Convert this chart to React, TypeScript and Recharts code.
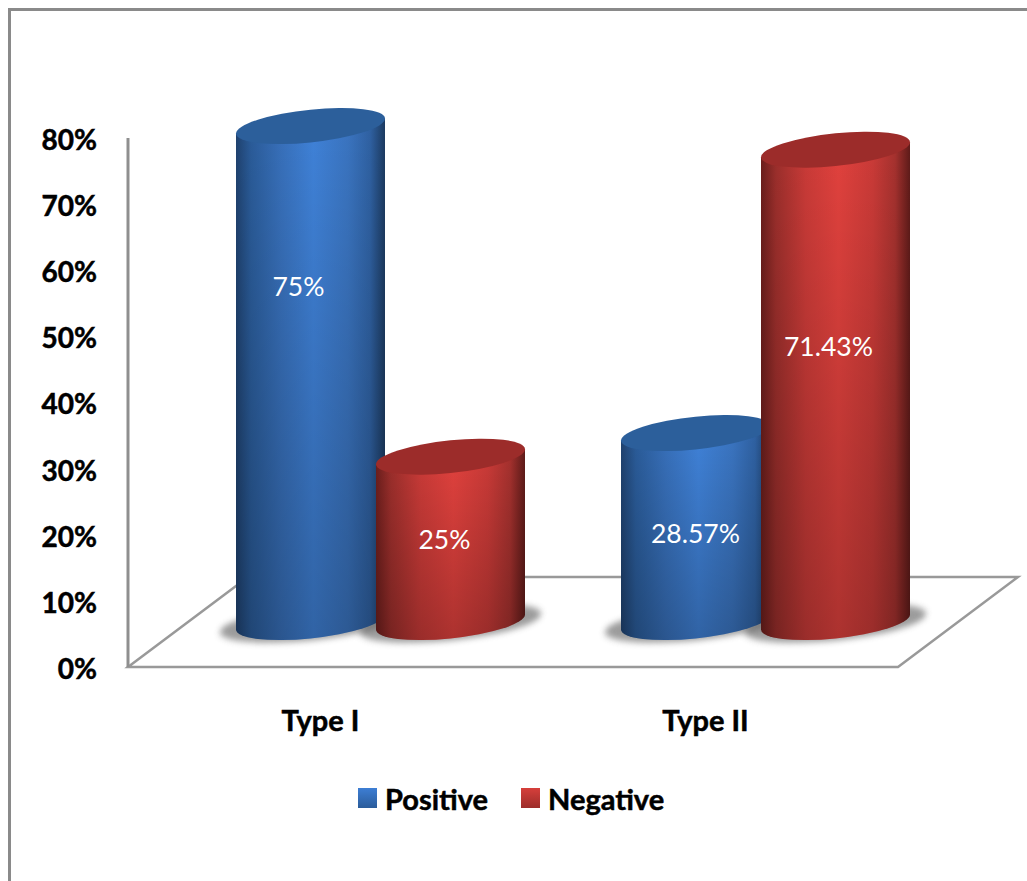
import { Bar, BarChart, LabelList, Legend, XAxis, YAxis } from "recharts";

const categories = ["Type I", "Type II"];
const positiveValues = [75, 28.57];
const negativeValues = [25, 71.43];
const yTicks = [0, 10, 20, 30, 40, 50, 60, 70, 80];

const data = categories.map((type, i) => ({
  type,
  positive: positiveValues[i],
  negative: negativeValues[i],
}));

const WIDTH = 1027;
const HEIGHT = 881;
const PLOT_LEFT = 128;
const PLOT_RIGHT = 898;
const PLOT_TOP = 138;
const PLOT_BOTTOM = 667;

// fake 3D: bars sit on a floor pushed back and to the right of the axes
const DEPTH_X = 60;
const DEPTH_Y = 45;
const CAP_RY = 16.4;
const SKEW = -5.75;

const FONT = "Lato, sans-serif";
const AXIS_GRAY = "#8f8f8f";

// where each value label sits: sideways shift, and how far down the cylinder
const positiveLabelPlace = [
  { dx: -12, down: 0.323 },
  { dx: 0, down: 0.53 },
];
const negativeLabelPlace = [
  { dx: -6, down: 0.5 },
  { dx: -7, down: 0.415 },
];

const Cylinder = (props) => {
  const { x, y, width, height, side, cap } = props;
  const cx = x + width / 2 + DEPTH_X;
  const a = width / 2;
  const top = y - DEPTH_Y;
  const base = y + height - DEPTH_Y;
  const body = `M${-a} ${top}V${base}A${a} ${CAP_RY} 0 0 0 ${a} ${base}V${top}Z`;
  return (
    <g transform={`translate(${cx} 0) skewY(${SKEW})`}>
      <path d={body} fill={`url(#${side})`} />
      <path d={body} fill="url(#fade)" />
      <ellipse cx={0} cy={top} rx={a} ry={CAP_RY} fill={cap} />
    </g>
  );
};

const FloorShadow = (props) => {
  const { x, y, width, height } = props;
  const cx = x + width / 2 + DEPTH_X;
  const base = y + height - DEPTH_Y;
  return (
    <g transform={`translate(${cx} 0) skewY(${SKEW})`}>
      <ellipse
        cx={0}
        cy={base + 1}
        rx={width / 2 + 16}
        ry={CAP_RY + 1}
        fill="#5a5a5a"
        opacity={0.6}
        filter="url(#soft)"
      />
    </g>
  );
};

const valueLabel = (places) => (props) => {
  const { x, y, width, height, value, index } = props;
  const place = places[index];
  const top = y - DEPTH_Y;
  return (
    <text
      x={x + width / 2 + DEPTH_X + place.dx}
      y={top + height * place.down}
      fill="#fff"
      fontFamily={FONT}
      fontSize={26.5}
      textAnchor="middle"
      dominantBaseline="central"
    >
      {value}%
    </text>
  );
};

const Floor = () => (
  <polygon
    points={`${PLOT_LEFT},${PLOT_BOTTOM} ${PLOT_RIGHT},${PLOT_BOTTOM} ${
      PLOT_RIGHT + 2 * DEPTH_X
    },${PLOT_BOTTOM - 2 * DEPTH_Y} ${PLOT_LEFT + 2 * DEPTH_X},${
      PLOT_BOTTOM - 2 * DEPTH_Y
    }`}
    fill="#fff"
    stroke="#999"
    strokeWidth={2.5}
    strokeLinejoin="miter"
  />
);

const swatches = {
  Positive: "linear-gradient(#3d7ed4, #2b5c9a)",
  Negative: "linear-gradient(#d63f3b, #9c2d2a)",
};

const LegendRow = ({ payload }) => (
  <div style={{ position: "relative", height: 40, fontFamily: FONT }}>
    {payload
      .filter((entry) => swatches[entry.value])
      .map((entry) => (
        <div
          key={entry.value}
          style={{
            position: "absolute",
            left: entry.value === "Positive" ? 358 : 521,
            top: 0,
            display: "flex",
            alignItems: "center",
            height: 40,
            gap: 8,
            fontSize: 29,
            fontWeight: 700,
            color: "#000",
            WebkitTextStroke: "0.5px #000",
          }}
        >
          <span
            style={{
              display: "block",
              width: 19,
              height: 20,
              background: swatches[entry.value],
            }}
          />
          {entry.value}
        </div>
      ))}
  </div>
);

const App = () => (
  <div
    style={{
      position: "absolute",
      left: 0,
      top: 0,
      width: WIDTH,
      height: HEIGHT,
      overflow: "hidden",
    }}
  >
    <div
      style={{
        position: "absolute",
        left: 8,
        top: 8,
        right: 0,
        bottom: 0,
        borderLeft: "3px solid #8a8a8a",
        borderTop: "3px solid #8a8a8a",
      }}
    />
    <BarChart
      width={WIDTH}
      height={HEIGHT}
      data={data}
      margin={{
        top: PLOT_TOP,
        right: WIDTH - PLOT_RIGHT,
        bottom: HEIGHT - PLOT_BOTTOM - 60,
        left: 0,
      }}
      barSize={149}
      barGap={-9}
    >
      <defs>
        <linearGradient id="blueSide" x1="0" x2="1" y1="0" y2="0">
          <stop offset="0" stopColor="#1f416e" />
          <stop offset="0.1" stopColor="#2a5b98" />
          <stop offset="0.3" stopColor="#376fb9" />
          <stop offset="0.52" stopColor="#3f81d7" />
          <stop offset="0.75" stopColor="#3a74c0" />
          <stop offset="0.9" stopColor="#2f61a2" />
          <stop offset="1" stopColor="#1c3a60" />
        </linearGradient>
        <linearGradient id="redSide" x1="0" x2="1" y1="0" y2="0">
          <stop offset="0" stopColor="#6a1e1c" />
          <stop offset="0.1" stopColor="#9a2e2b" />
          <stop offset="0.3" stopColor="#c83a37" />
          <stop offset="0.52" stopColor="#e0413d" />
          <stop offset="0.75" stopColor="#c93a37" />
          <stop offset="0.9" stopColor="#a5312e" />
          <stop offset="1" stopColor="#5e1b19" />
        </linearGradient>
        <linearGradient id="fade" x1="0" x2="0" y1="0" y2="1">
          <stop offset="0" stopColor="#000" stopOpacity={0} />
          <stop offset="1" stopColor="#000" stopOpacity={0.23} />
        </linearGradient>
        <filter id="soft" x="-20%" y="-50%" width="140%" height="200%">
          <feGaussianBlur stdDeviation={3} />
        </filter>
      </defs>
      <Floor />
      <XAxis
        dataKey="type"
        height={60}
        axisLine={false}
        tickLine={false}
        tickSize={0}
        tickMargin={43}
        tick={{
          fill: "#000",
          stroke: "#000",
          strokeWidth: 0.5,
          fontFamily: FONT,
          fontSize: 29,
          fontWeight: 700,
        }}
      />
      <YAxis
        domain={[0, 80]}
        ticks={yTicks}
        width={PLOT_LEFT}
        tickFormatter={(v) => `${v}%`}
        tickLine={false}
        tickSize={0}
        tickMargin={31}
        axisLine={{ stroke: AXIS_GRAY, strokeWidth: 3 }}
        tick={{
          fill: "#000",
          stroke: "#000",
          strokeWidth: 0.5,
          fontFamily: FONT,
          fontSize: 28,
          fontWeight: 700,
          dy: 2,
        }}
      />
      {/* second hidden axis pair, so the shadows are laid down before any cylinder */}
      <XAxis xAxisId="shadow" dataKey="type" hide />
      <YAxis yAxisId="shadow" domain={[0, 80]} hide />
      <Bar
        xAxisId="shadow"
        yAxisId="shadow"
        dataKey="positive"
        legendType="none"
        shape={<FloorShadow />}
        isAnimationActive={false}
      />
      <Bar
        xAxisId="shadow"
        yAxisId="shadow"
        dataKey="negative"
        legendType="none"
        shape={<FloorShadow />}
        isAnimationActive={false}
      />
      <Bar
        dataKey="positive"
        name="Positive"
        fill="#3d7ed4"
        shape={<Cylinder side="blueSide" cap="#2c5f9b" />}
        isAnimationActive={false}
      >
        <LabelList dataKey="positive" content={valueLabel(positiveLabelPlace)} />
      </Bar>
      <Bar
        dataKey="negative"
        name="Negative"
        fill="#d63f3b"
        shape={<Cylinder side="redSide" cap="#9c2c2a" />}
        isAnimationActive={false}
      >
        <LabelList dataKey="negative" content={valueLabel(negativeLabelPlace)} />
      </Bar>
      <Legend
        layout="horizontal"
        verticalAlign="middle"
        align="center"
        wrapperStyle={{ top: 778, left: 0, width: WIDTH }}
        content={<LegendRow />}
      />
    </BarChart>
  </div>
);

export default App;
